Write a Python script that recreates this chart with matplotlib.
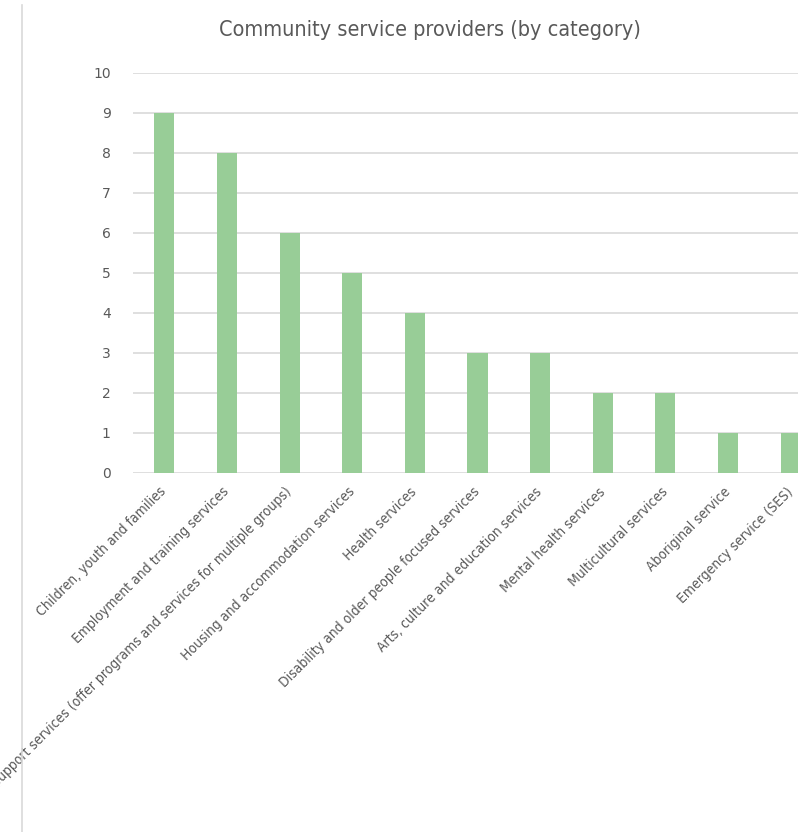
import matplotlib.pyplot as plt
import numpy as np
from matplotlib.lines import Line2D

categories = [
    "Children, youth and families",
    "Employment and training services",
    "Support services (offer programs and services for multiple groups)",
    "Housing and accommodation services",
    "Health services",
    "Disability and older people focused services",
    "Arts, culture and education services",
    "Mental health services",
    "Multicultural services",
    "Aboriginal service",
    "Emergency service (SES)",
]
counts = [9, 8, 6, 5, 4, 3, 3, 2, 2, 1, 1]

plt.rcParams["font.family"] = ["DejaVu Sans"]

fig = plt.figure(figsize=(7.98, 8.32), dpi=100)
ax = fig.add_axes([133 / 798, 1 - 473 / 832, (822 - 133) / 798, 400 / 832])

x = np.arange(len(categories))
ax.bar(x, counts, width=0.32, color="#98CD97", zorder=3)

ax.set_xlim(-0.5, len(categories) - 0.5)
ax.set_ylim(0, 10)
ax.set_yticks(range(0, 11))
ax.grid(axis="y", color="#D9D9D9", linewidth=1.2, zorder=0)
for s in ax.spines.values():
    s.set_visible(False)
ax.tick_params(axis="both", length=0, colors="#595959")
ax.tick_params(axis="y", pad=16, labelsize=10)
ax.tick_params(axis="x", pad=12)
ax.set_xticks(x)
ax.set_xticklabels(categories, rotation=45, ha="right", va="center",
                   rotation_mode="anchor", fontsize=10, color="#595959",
                   fontstretch="condensed")

fig.text(430 / 798, 1 - 30 / 832, "Community service providers (by category)",
         ha="center", va="center", fontsize=15.5, color="#595959",
         fontstretch="condensed")

fig.add_artist(Line2D([22 / 798, 22 / 798], [0, 1 - 5 / 832],
                      transform=fig.transFigure, color="#D9D9D9", linewidth=1.2))

fig.savefig("out.png", dpi=100)
